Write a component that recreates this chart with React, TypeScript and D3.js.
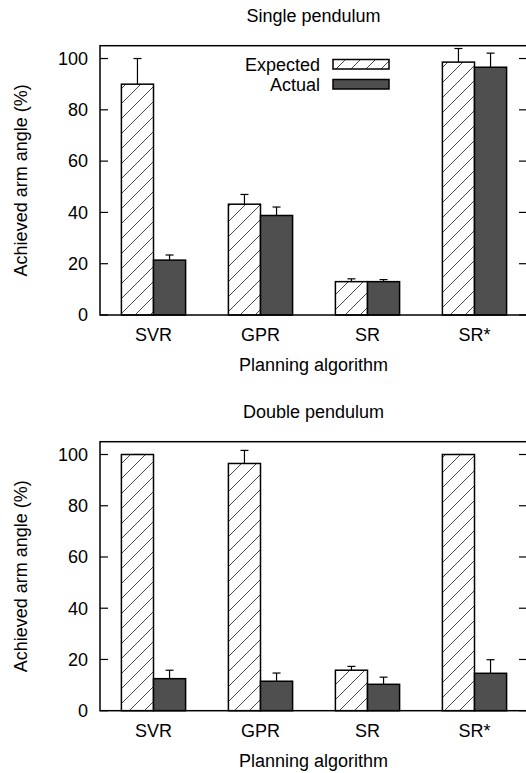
import React from "react";
import * as d3 from "d3";

const categories = ["SVR", "GPR", "SR", "SR*"];
const yTicks = [0, 20, 40, 60, 80, 100];

const singleExpected = [90, 43.2, 13, 98.6];
const singleExpectedErr = [10, 3.8, 1.1, 5.3];
const singleActual = [21.4, 38.8, 13, 96.6];
const singleActualErr = [2, 3.3, 0.8, 5.5];

const doubleExpected = [100, 96.5, 15.8, 100];
const doubleExpectedErr = [0, 5.1, 1.5, 0];
const doubleActual = [12.5, 11.5, 10.3, 14.6];
const doubleActualErr = [3.3, 3.2, 2.8, 5.3];

const FONT = "'Liberation Sans', Arial, Helvetica, sans-serif";
const FS = 18;

type PanelProps = {
  title: string;
  expected: number[];
  expectedErr: number[];
  actual: number[];
  actualErr: number[];
  top: number;
  bottom: number;
  legend: boolean;
};

const LEFT = 100;
const RIGHT = 527;

function Panel({ title, expected, expectedErr, actual, actualErr, top, bottom, legend }: PanelProps) {
  const x = d3.scaleLinear().domain([0.5, categories.length + 0.5]).range([LEFT, RIGHT + 1]);
  const y = d3.scaleLinear().domain([0, 105]).range([bottom, top]);
  const bw = x(1.3) - x(1);
  const cap = 4;
  const series = [
    { vals: expected, errs: expectedErr, fill: "url(#hatch)", off: -1 },
    { vals: actual, errs: actualErr, fill: "#4f4f4f", off: 0 },
  ];
  const midY = (top + bottom) / 2;
  return (
    <g>
      <text x={(LEFT + RIGHT) / 2} y={top - 24} textAnchor="middle" fontSize={FS} fontFamily={FONT}>
        {title}
      </text>
      {series.map((s, si) =>
        s.vals.map((v, i) => {
          const cx = x(i + 1);
          const x0 = cx + s.off * bw;
          const xm = x0 + bw / 2;
          return (
            <g key={`${si}-${i}`}>
              <line x1={xm} x2={xm} y1={y(v)} y2={y(v + s.errs[i])} stroke="#000" strokeWidth={1.2} />
              <line x1={xm - cap} x2={xm + cap} y1={y(v + s.errs[i])} y2={y(v + s.errs[i])} stroke="#000" strokeWidth={1.2} />
              <rect x={x0} y={y(v)} width={bw} height={y(0) - y(v)} fill={s.fill} stroke="#000" strokeWidth={1.5} />
            </g>
          );
        })
      )}
      <rect x={LEFT} y={top} width={RIGHT - LEFT} height={bottom - top} fill="none" stroke="#000" strokeWidth={1.5} />
      {yTicks.map((t) => (
        <g key={t}>
          <line x1={LEFT} x2={LEFT + 8} y1={y(t)} y2={y(t)} stroke="#000" strokeWidth={1.2} />
          <line x1={RIGHT - 8} x2={RIGHT} y1={y(t)} y2={y(t)} stroke="#000" strokeWidth={1.2} />
          <text x={LEFT - 12} y={y(t)} dy="0.35em" textAnchor="end" fontSize={FS} fontFamily={FONT}>
            {t}
          </text>
        </g>
      ))}
      {categories.map((c, i) => (
        <text key={c} x={x(i + 1)} y={bottom + 26} textAnchor="middle" fontSize={FS} fontFamily={FONT}>
          {c}
        </text>
      ))}
      <text x={(LEFT + RIGHT) / 2 - 0} y={bottom + 56} textAnchor="middle" fontSize={FS} fontFamily={FONT}>
        Planning algorithm
      </text>
      <text
        transform={`translate(27,${midY}) rotate(-90)`}
        textAnchor="middle"
        fontSize={FS}
        fontFamily={FONT}
      >
        Achieved arm angle (%)
      </text>
      {legend && (
        <g>
          <text x={320} y={71} textAnchor="end" fontSize={FS} fontFamily={FONT}>Expected</text>
          <rect x={333} y={59.5} width={56} height={9.5} fill="url(#hatch)" stroke="#000" strokeWidth={1.5} />
          <text x={320} y={91} textAnchor="end" fontSize={FS} fontFamily={FONT}>Actual</text>
          <rect x={333} y={79.5} width={56} height={9.5} fill="#4f4f4f" stroke="#000" strokeWidth={1.5} />
        </g>
      )}
    </g>
  );
}

export default function App() {
  return (
    <svg
      width={526}
      height={773}
      style={{ position: "absolute", left: 0, top: 0, background: "#fff" }}
    >
      <defs>
        <pattern id="hatch" patternUnits="userSpaceOnUse" width={15} height={15}>
          <rect width={15} height={15} fill="#fff" />
          <path d="M0,15 L15,0 M-3,3 L3,-3 M12,18 L18,12" stroke="#333" strokeWidth={0.9} />
        </pattern>
      </defs>
      <rect width={526} height={773} fill="#fff" />
      <Panel
        title="Single pendulum"
        expected={singleExpected}
        expectedErr={singleExpectedErr}
        actual={singleActual}
        actualErr={singleActualErr}
        top={45.7}
        bottom={315}
        legend={true}
      />
      <Panel
        title="Double pendulum"
        expected={doubleExpected}
        expectedErr={doubleExpectedErr}
        actual={doubleActual}
        actualErr={doubleActualErr}
        top={441.7}
        bottom={710.7}
        legend={false}
      />
    </svg>
  );
}
